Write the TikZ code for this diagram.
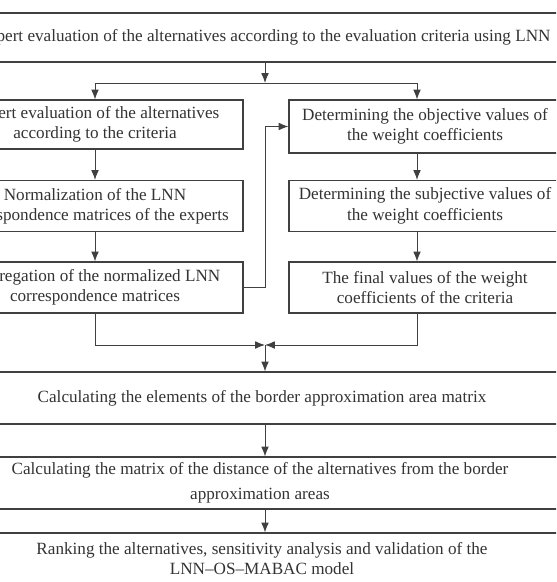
\documentclass[tikz,border=0pt]{standalone}
\usepackage{fontspec}
\setmainfont{Liberation Serif}
\usetikzlibrary{arrows.meta,positioning,calc}

\begin{document}
\begin{tikzpicture}[
    >={Latex[length=7pt,width=5.5pt]},
    line join=miter,
    flow/.style={->,line width=0.7pt,black!75},
    wide/.style={
        draw=black!75,
        line width=0.8pt,
        inner sep=0pt,
        align=center,
        text=black!80,
        font=\fontsize{12.2}{14.5}\selectfont,
        minimum width=16.5cm,
        minimum height=1.3cm
    },
    stage/.style={
        draw=black!75,
        line width=0.8pt,
        inner sep=0pt,
        align=center,
        text=black!80,
        font=\fontsize{12.2}{14.5}\selectfont,
        minimum width=7.4cm,
        minimum height=1.275cm
    },
    weight/.style={
        stage,
        minimum width=6.8cm
    }
]

\clip (0,0) rectangle (13.9,-14.55);

\node[wide,minimum height=1.225cm] (eval) at (6.6,-0.9375) {Expert evaluation of the alternatives according to the evaluation criteria using LNN};
\coordinate (split) at (6.625,-2.075);

% Experts.
\node[stage,minimum height=1.225cm] (expert) at (2.375,-3.1125) {Expert evaluation of the alternatives\\according to the criteria};
\node[stage] (norm) at (2.375,-5.15) {Normalization of the LNN\\correspondence matrices of the experts};
\node[stage] (aggr) at (2.375,-7.1875) {Aggregation of the normalized LNN\\correspondence matrices};

% Weights.
\node[weight,minimum height=1.325cm] (obj) at (10.625,-3.1625) {Determining the objective values of\\the weight coefficients};
\node[weight] (subj) at (10.625,-5.15) {Determining the subjective values of\\the weight coefficients};
\node[weight] (final) at (10.625,-7.1875) {The final values of the weight\\coefficients of the criteria};

\draw[flow] (eval.south -| split) -- (split);
\draw[flow] (split) -| (expert);
\draw[flow] (split) -| ([xshift=-0.2cm]obj.north);

\draw[flow] (expert) -- (norm);
\draw[flow] (norm) -- (aggr);
\draw[flow] ([xshift=-0.2cm]obj.south) -- ([xshift=-0.2cm]subj.north);
\draw[flow] ([xshift=-0.2cm]subj.south) -- ([xshift=-0.2cm]final.north);
\draw[flow] (aggr.east) -- ++(0.55,0) |- (obj.west);

% MABAC.
\coordinate (merge) at (6.625,-8.625);
\node[wide] (border) at (6.55,-9.95) {Calculating the elements of the border approximation area matrix};
\node[wide,font=\fontsize{12.2}{17.5}\selectfont] (dist) at (6.5,-12.075) {Calculating the matrix of the distance of the alternatives from the border\\approximation areas};
\node[wide,minimum height=1.275cm,font=\fontsize{12.2}{13.8}\selectfont] (rank) at (6.55,-13.9625) {Ranking the alternatives, sensitivity analysis and validation of the\\LNN--OS--MABAC model};

\draw[flow] (aggr.south) |- (merge);
\draw[flow] ([xshift=-0.2cm]final.south) |- (merge);
\draw[flow] (merge) -- (border.north -| merge);
\draw[flow] (border.south -| merge) -- (dist.north -| merge);
\draw[flow] (dist.south -| merge) -- (rank.north -| merge);

\end{tikzpicture}
\end{document}
